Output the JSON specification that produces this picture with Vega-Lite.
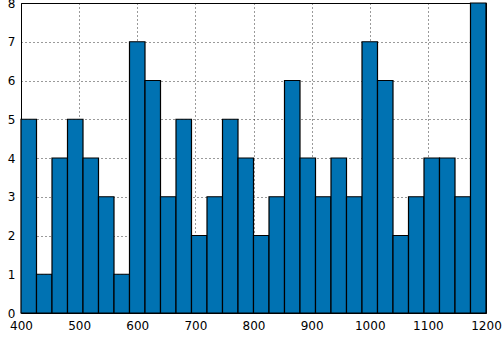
{
  "$schema": "https://vega.github.io/schema/vega-lite/v6.json",
  "width": 465,
  "height": 310,
  "autosize": "none",
  "padding": {"left": 21, "top": 3, "right": 17, "bottom": 24},
  "background": "white",
  "config": {
    "view": {"stroke": "black", "strokeWidth": 1},
    "font": "DejaVu Sans",
    "axis": {
      "labelFont": "DejaVu Sans",
      "labelFontSize": 12,
      "labelColor": "black",
      "domain": false,
      "ticks": false,
      "grid": true,
      "gridColor": "black",
      "gridOpacity": 1,
      "gridDash": [1, 3],
      "gridWidth": 0.8,
      "title": null,
      "zindex": 1
    }
  },
  "data": {
    "values": [
      {"start": 400, "end": 426.67, "count": 5},
      {"start": 426.67, "end": 453.33, "count": 1},
      {"start": 453.33, "end": 480, "count": 4},
      {"start": 480, "end": 506.67, "count": 5},
      {"start": 506.67, "end": 533.33, "count": 4},
      {"start": 533.33, "end": 560, "count": 3},
      {"start": 560, "end": 586.67, "count": 1},
      {"start": 586.67, "end": 613.33, "count": 7},
      {"start": 613.33, "end": 640, "count": 6},
      {"start": 640, "end": 666.67, "count": 3},
      {"start": 666.67, "end": 693.33, "count": 5},
      {"start": 693.33, "end": 720, "count": 2},
      {"start": 720, "end": 746.67, "count": 3},
      {"start": 746.67, "end": 773.33, "count": 5},
      {"start": 773.33, "end": 800, "count": 4},
      {"start": 800, "end": 826.67, "count": 2},
      {"start": 826.67, "end": 853.33, "count": 3},
      {"start": 853.33, "end": 880, "count": 6},
      {"start": 880, "end": 906.67, "count": 4},
      {"start": 906.67, "end": 933.33, "count": 3},
      {"start": 933.33, "end": 960, "count": 4},
      {"start": 960, "end": 986.67, "count": 3},
      {"start": 986.67, "end": 1013.33, "count": 7},
      {"start": 1013.33, "end": 1040, "count": 6},
      {"start": 1040, "end": 1066.67, "count": 2},
      {"start": 1066.67, "end": 1093.33, "count": 3},
      {"start": 1093.33, "end": 1120, "count": 4},
      {"start": 1120, "end": 1146.67, "count": 4},
      {"start": 1146.67, "end": 1173.33, "count": 3},
      {"start": 1173.33, "end": 1200, "count": 8}
    ]
  },
  "mark": {"type": "rect", "fill": "#0072B2", "stroke": "black", "strokeWidth": 1.2},
  "encoding": {
    "x": {
      "field": "start",
      "type": "quantitative",
      "scale": {"domain": [400, 1200], "nice": false, "zero": false},
      "axis": {"values": [400, 500, 600, 700, 800, 900, 1000, 1100, 1200], "format": "d", "labelPadding": 7, "labelFlush": false, "labelOverlap": false}
    },
    "x2": {"field": "end"},
    "y": {
      "field": "count",
      "type": "quantitative",
      "scale": {"domain": [0, 8], "nice": false},
      "axis": {"values": [0, 1, 2, 3, 4, 5, 6, 7, 8], "format": "d", "labelPadding": 6, "labelFlush": false, "labelOverlap": false}
    },
    "y2": {"datum": 0}
  }
}
